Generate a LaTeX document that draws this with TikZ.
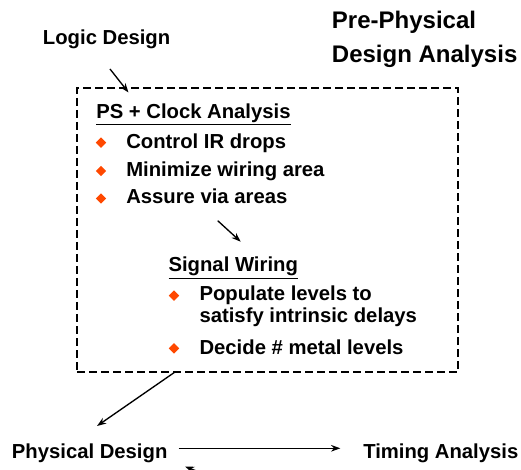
\documentclass[tikz,border=0pt]{standalone}
\usepackage{fontspec}
\setmainfont{Liberation Sans}
\usetikzlibrary{positioning, arrows.meta, shapes.geometric}
\definecolor{bulorange}{RGB}{255,72,0}

\begin{document}
\begin{tikzpicture}[x=0.75pt, y=-0.75pt, >={Stealth[length=7pt, width=5pt]},
          font=\bfseries\fontsize{15.2}{18}\selectfont,
          t/.style ={anchor=base west, inner sep=0pt},
          hd/.style={t, font=\bfseries\fontsize{18}{21}\selectfont},
          bul/.style={diamond, fill=bulorange, inner sep=0pt, minimum size=8pt},
          ar/.style={->, line width=1pt},
          box/.style={draw, dash pattern=on 6pt off 3pt, line width=1.1pt, inner sep=0pt}]
        \useasboundingbox (0,0) rectangle (521,470);
        % titles
        \node[t]  (ld) at (42.7,45) {Logic Design};
        \node[hd] (pp) at (331.7,29) {Pre-Physical};
        \node[hd] (da) at (331.7,63) {Design Analysis};
        % pre-physical box
        \node[box, minimum width=285.75pt, minimum height=213pt] (pre) at (267.5,230) {};
        \coordinate (ld-out) at (110,69);
        \coordinate (pre-in) at (128.5,92.5);
        \draw[ar] (ld-out) -- (pre-in);
        \node[t] (ps) at (96,118.3) {\underline{PS + Clock Analysis}};
        \node[t] (c1) at (126,148.3) {Control IR drops};
        \node[t] (c2) at (126,176.7) {Minimize wiring area};
        \node[t] (c3) at (126,204) {Assure via areas};
        \node[bul] (b1) at (101,142.7) {};
        \node[bul] (b2) at (101,171) {};
        \node[bul] (b3) at (101,198.5) {};
        \coordinate (ps-out) at (217.7,220.7);
        \coordinate (sw-in) at (240.7,241.7);
        \draw[ar] (ps-out) -- (sw-in);
        \node[t] (sw) at (168.3,271.7) {\underline{Signal Wiring}};
        \node[t] (s1) at (199.3,300.7) {Populate levels to};
        \node[t] (s1b) at (199.3,322.7) {satisfy intrinsic delays};
        \node[t] (s2) at (199.3,354) {Decide \# metal levels};
        \node[bul] (b4) at (174,295.7) {};
        \node[bul] (b5) at (174,348.3) {};
        % physical design
        \coordinate (pre-out) at (175,372);
        \coordinate (pd-in) at (97,426);
        \draw[ar] (pre-out) -- (pd-in);
        \node[t] (pd) at (11.7,458.3) {Physical Design};
        \node[t] (ta) at (363,458.3) {Timing Analysis};
        \draw[ar] ([xshift=8.25pt,yshift=7.5pt]pd.base east) -- ([xshift=-17pt,yshift=7.5pt]ta.base west);
        \begin{scope}
          \clip (0,0) rectangle (521,470);
          \coordinate (ta-back) at (214,478);
          \coordinate (pd-back) at (185,466.5);
          \draw[ar] (ta-back) -- (pd-back);
        \end{scope}
      \end{tikzpicture}
\end{document}
